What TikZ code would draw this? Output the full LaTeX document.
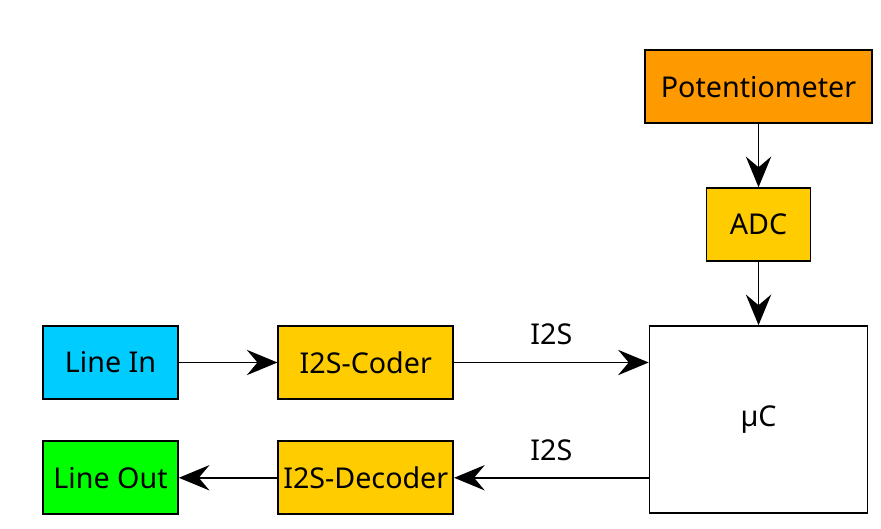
\documentclass[tikz,border=0pt]{standalone}
\usepackage{fontspec}
\setmainfont{Noto Sans}
\usepackage{xcolor}
\usepackage{tikz}
\usetikzlibrary{arrows.meta,positioning}

\definecolor{potorange}{HTML}{FF9900}
\definecolor{chipyellow}{HTML}{FFCC00}
\definecolor{incyan}{HTML}{00CCFF}
\definecolor{outgreen}{HTML}{00FF00}

\begin{document}
\begin{tikzpicture}[
    every node/.style={font=\fontsize{21.5}{25}\selectfont},
    box/.style={draw, line width=1.2pt, align=center, minimum height=54.75pt, inner sep=0pt},
    io/.style={box, minimum width=101.25pt},
    codec/.style={box, minimum width=131.25pt, fill=chipyellow},
    sig/.style={-{Stealth[length=23pt, width=19pt, inset=8pt]}, line width=1.2pt},
    lbl/.style={font=\fontsize{21.5}{25}\selectfont}
]
\useasboundingbox (0,0) rectangle (660.75pt,-396pt);

\node[io, fill=incyan] (linein) at (82.875pt,-271.875pt) {Line In};
\node[codec, right=74pt of linein] (coder) {I2S-Coder};
\node[io, fill=outgreen, below=30.5pt of linein] (lineout) {Line Out};
\node[codec, right=74pt of lineout] (decoder) {I2S-Decoder};

\node[box, minimum width=163.5pt, minimum height=140.25pt, right=146pt of coder.north east, anchor=north west] (mcu) {µC};
\node[box, minimum width=78pt, fill=chipyellow, above=47.5pt of mcu] (adc) {ADC};
\node[box, minimum width=170.25pt, fill=potorange, above=47.5pt of adc] (poti) {Potentiometer};

\draw[sig] (linein) -- (coder);
\draw[sig] (coder.east) -- node[lbl, above=9pt] {I2S} (coder.east -| mcu.west);
\draw[sig] (decoder.east -| mcu.west) -- node[lbl, above=9pt] {I2S} (decoder.east);
\draw[sig] (decoder) -- (lineout);
\draw[sig] (poti) -- (adc);
\draw[sig] (adc) -- (mcu);
\end{tikzpicture}
\end{document}
